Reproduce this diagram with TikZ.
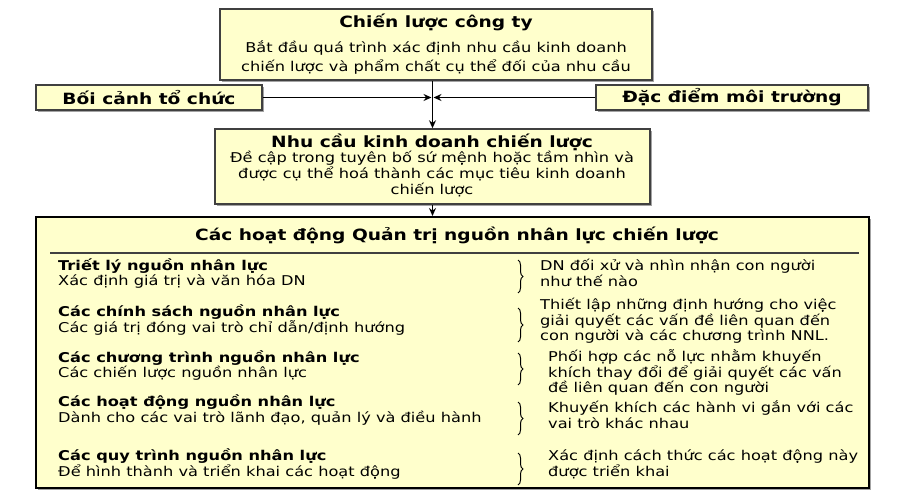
\documentclass[tikz,border=0pt]{standalone}
\usepackage{fontspec}
\setmainfont{DejaVu Sans}[FakeStretch=1.2]
\usetikzlibrary{arrows.meta,shadows,decorations.pathreplacing}
\definecolor{nen}{HTML}{FFFFCC}
\definecolor{vien}{HTML}{404040}
\tikzset{
 hop/.style={draw=vien,line width=1.5pt,fill=nen,inner sep=0pt,
  drop shadow={shadow xshift=2pt,shadow yshift=-2pt,fill=black!60,opacity=.6}},
 tieude/.style={font=\fontsize{15.5}{18}\selectfont\bfseries,inner sep=0pt},
 chu/.style={font=\fontsize{13.5}{15.5}\selectfont,inner sep=0pt,align=left},
 mui/.style={-{Stealth[length=8pt,width=7pt]},line width=1.3pt},
 ngoac/.style={decorate,decoration={brace,amplitude=5pt},line width=1pt}
}
\begin{document}
\begin{tikzpicture}[x=1pt,y=-1pt]
\useasboundingbox(0,0)rectangle(900,500);
\node[hop,minimum width=432pt,minimum height=71pt](cty)at(436,44.5){};
\node[hop,minimum width=226pt,minimum height=25pt](boicanh)at(149,97.5){};
\node[hop,minimum width=272pt,minimum height=25pt](dacdiem)at(732,97.5){};
\node[hop,minimum width=435pt,minimum height=75pt](nhucau)at(432.5,166.5){};
\node[hop,line width=2pt,draw=black,minimum width=833pt,minimum height=271pt](hoatdong)at(452.5,352.5){};
\node[tieude](tdcty)at(436,22.5){Chiến lược công ty};
\node[chu,align=center,font=\fontsize{13.5}{19}\selectfont](ndcty)at(436,57.5){Bắt đầu quá trình xác định nhu cầu kinh doanh\\chiến lược và phẩm chất cụ thể đối của nhu cầu};
\node[tieude](tdboicanh)at(boicanh){Bối cảnh tổ chức};
\node[tieude](tddacdiem)at(dacdiem){Đặc điểm môi trường};
\node[tieude](tdnhucau)at(432,142){Nhu cầu kinh doanh chiến lược};
\node[chu,align=center,font=\fontsize{13.5}{16.3}\selectfont](ndnhucau)at(432,174){Đề cập trong tuyên bố sứ mệnh hoặc tầm nhìn và\\được cụ thể hoá thành các mục tiêu kinh doanh\\chiến lược};
\node[tieude](tdhoatdong)at(457,235){Các hoạt động Quản trị nguồn nhân lực chiến lược};
\draw[vien,line width=2pt](50,253)--(859,253);
\draw[mui](cty.south-|nhucau.north)--(nhucau.north);
\draw[mui](boicanh.east)--([xshift=-1pt]boicanh.east-|nhucau.north);
\draw[mui](dacdiem.west)--([xshift=1pt]dacdiem.west-|nhucau.north);
\draw[mui](nhucau.south)--(nhucau.south|-hoatdong.north);
\foreach \yt/\xp/\yp/\bt/\bb/\tr/\tp/\ph [count=\i] in {
 273.5/540/273/260/293/{Triết lý nguồn nhân lực}/{Xác định giá trị và văn hóa DN}/{DN đối xử và nhìn nhận con người\\như thế nào},
 320/540/321/308/342/{Các chính sách nguồn nhân lực}/{Các giá trị đóng vai trò chỉ dẫn/định hướng}/{Thiết lập những định hướng cho việc\\giải quyết các vấn đề liên quan đến\\con người và các chương trình NNL.},
 365.5/548/372.5/353/385/{Các chương trình nguồn nhân lực}/{Các chiến lược nguồn nhân lực}/{Phối hợp các nỗ lực nhằm khuyến\\khích thay đổi để giải quyết các vấn\\đề liên quan đến con người},
 410/548/414.5/402/435/{Các hoạt động nguồn nhân lực}/{Dành cho các vai trò lãnh đạo, quản lý và điều hành}/{Khuyến khích các hành vi gắn với các\\vai trò khác nhau},
 464/548/464.5/453/485/{Các quy trình nguồn nhân lực}/{Để hình thành và triển khai các hoạt động}/{Xác định cách thức các hoạt động này\\được triển khai}}{
\node[chu,anchor=west](trai\i)at(58,\yt){\textbf{\tr}\\\tp};
\node[chu,anchor=west](phai\i)at(\xp,\yp){\ph};
\draw[ngoac](518,\bt)--(518,\bb);
}
\end{tikzpicture}
\end{document}
